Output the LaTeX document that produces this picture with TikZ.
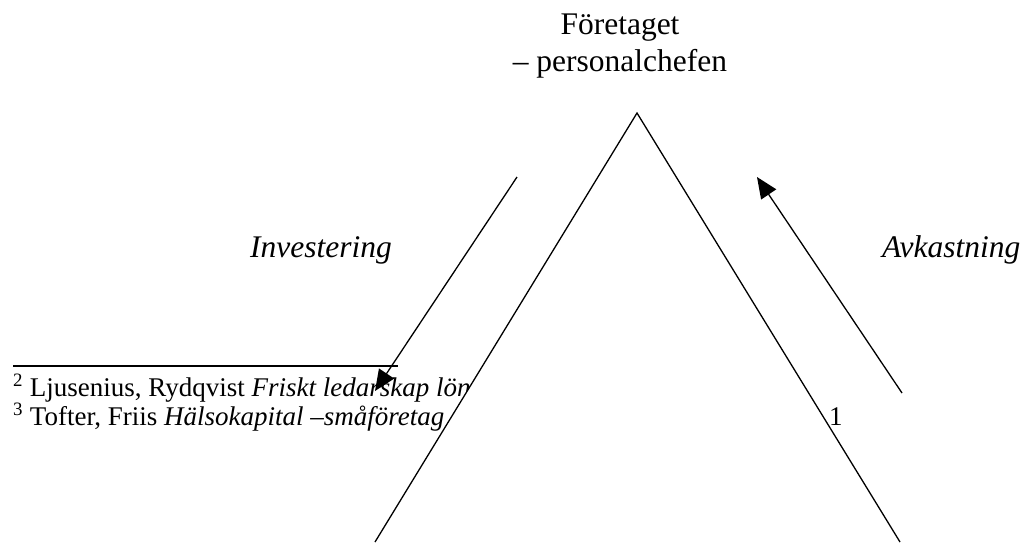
\documentclass[tikz,border=0pt]{standalone}
\usepackage{fontspec}
\setmainfont{Liberation Serif}
\usepackage{tikz}
\usetikzlibrary{arrows.meta}

\begin{document}
\begin{tikzpicture}[
  x=1pt, y=-1pt,
  big/.style={font=\fontsize{31.5}{37}\selectfont, inner sep=0pt},
  small/.style={font=\fontsize{27}{30}\selectfont, inner sep=0pt, anchor=base west},
  leg/.style={line width=1.3pt},
  flow/.style={-{Triangle[length=21pt,width=18pt]}, line width=1.3pt},
  every node/.style={align=center}]

\useasboundingbox (0,0) rectangle (1027,542);

% Footnotes at the bottom of the page
\coordinate (ruleL) at (13,366);
\coordinate (ruleR) at (398,366);
\draw [line width=1.3pt] (ruleL) -- (ruleR);
\node[small] (fnTwo) at (13,396) {\textsuperscript{2} Ljusenius, Rydqvist \textit{Friskt ledarskap lön}};
\node[small] (fnThree) at (13,425) {\textsuperscript{3} Tofter, Friis \textit{Hälsokapital –småföretag}};
\node[small] (pageNum) at (829,425) {1};

% The triangle hides the text behind it
\coordinate (apex) at (637,113);
\coordinate (baseL) at (375,542);
\coordinate (baseR) at (900,542);
\fill [white] (apex) -- (baseL) -- (baseR) -- cycle;
\draw [leg] (baseL) -- (apex) -- (baseR);

% Labels
\node[big, anchor=north] (company) at (620,14) {Företaget \\ – personalchefen};
\node[big, anchor=base west] (invest) at (250,257) {\textit{Investering}};
\node[big, anchor=base west] (yield) at (882,257) {\textit{Avkastning}};

% Arrows beside the triangle
\coordinate (investTop) at (517,177);
\coordinate (investEnd) at (375,391);
\coordinate (yieldLow) at (902,393);
\coordinate (yieldTop) at (757,177);
\draw [flow] (investTop) -- (investEnd);
\draw [flow] (yieldLow) -- (yieldTop);

\end{tikzpicture}
\end{document}
